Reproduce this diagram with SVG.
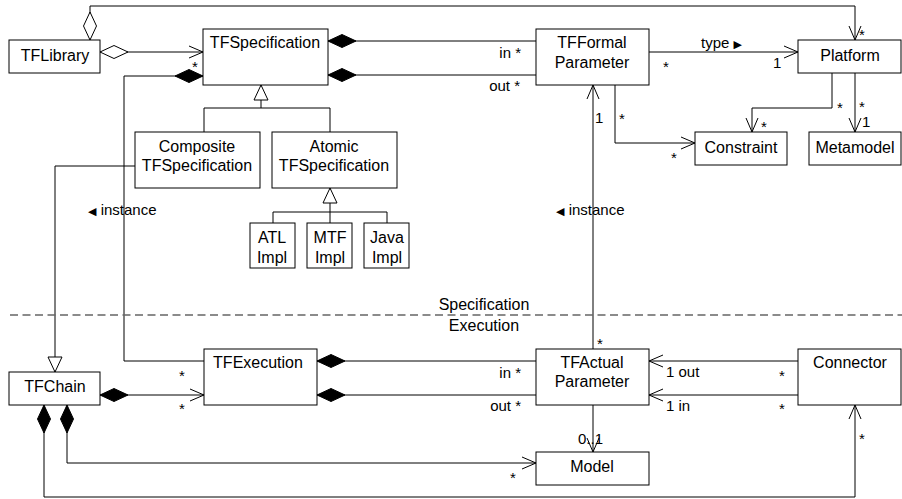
<svg xmlns="http://www.w3.org/2000/svg" width="902" height="499" viewBox="0 0 902 499">
<style>
.box{fill:#fff;stroke:#000;stroke-width:1}
.t{font-family:"Liberation Sans","DejaVu Sans",Arial,sans-serif;font-size:16px;fill:#000;text-anchor:middle}
.l{font-family:"Liberation Sans","DejaVu Sans",Arial,sans-serif;font-size:15px;fill:#000}
.r{text-anchor:end}
.c{fill:none;stroke:#000;stroke-width:1}
.sym{font-family:"DejaVu Sans",sans-serif;font-size:11px}
</style>
<defs>
<marker id="arr" markerUnits="userSpaceOnUse" markerWidth="16" markerHeight="14" refX="14" refY="6" orient="auto" overflow="visible"><path d="M0,0 L14,6 L0,12" fill="none" stroke="#000" stroke-width="1"/></marker>
<marker id="fd" markerUnits="userSpaceOnUse" markerWidth="30" markerHeight="14" refX="0" refY="6.5" orient="auto" overflow="visible"><path d="M0,6.5 L14,0 L28,6.5 L14,13 Z" fill="#000" stroke="#000" stroke-width="1"/></marker>
<marker id="hd" markerUnits="userSpaceOnUse" markerWidth="30" markerHeight="14" refX="0" refY="6.5" orient="auto" overflow="visible"><path d="M0,6.5 L14,0 L28,6.5 L14,13 Z" fill="#fff" stroke="#000" stroke-width="1"/></marker>
<marker id="tri" markerUnits="userSpaceOnUse" markerWidth="17" markerHeight="16" refX="15" refY="7" orient="auto" overflow="visible"><path d="M0,0 L15,7 L0,14 Z" fill="#fff" stroke="#000" stroke-width="1"/></marker>
</defs>

<g id="connectors">
<path class="c" d="M90,40 V6 H855 V40" marker-start="url(#hd)" marker-end="url(#arr)"/>
<path class="c" d="M100,52 H203" marker-start="url(#hd)" marker-end="url(#arr)"/>
<path class="c" d="M203,76 H124 V361 H204" marker-start="url(#fd)"/>
<path class="c" d="M328,41 H536" marker-start="url(#fd)"/>
<path class="c" d="M328,75 H536" marker-start="url(#fd)"/>
<path class="c" d="M649,52 H798" marker-end="url(#arr)"/>
<path class="c" d="M615,85 V143 H695" marker-end="url(#arr)"/>
<path class="c" d="M832,73 V108 H752 V132" marker-end="url(#arr)"/>
<path class="c" d="M855,73 V132" marker-end="url(#arr)"/>
<path class="c" d="M261,108 V85" marker-end="url(#tri)"/>
<path class="c" d="M204,132 V108 H330 V132"/>
<path class="c" d="M330,212 V188" marker-end="url(#tri)"/>
<path class="c" d="M273,223 V212 H387 V223 M330,212 V223"/>
<path class="c" d="M135,166 H55 V372" marker-end="url(#tri)"/>
<path class="c" d="M100,395 H204" marker-start="url(#fd)" marker-end="url(#arr)"/>
<path class="c" d="M317,361 H536" marker-start="url(#fd)"/>
<path class="c" d="M317,395 H536" marker-start="url(#fd)"/>
<path class="c" d="M593,349 V85" marker-end="url(#arr)"/>
<path class="c" d="M593,405 V452" marker-end="url(#arr)"/>
<path class="c" d="M798,361 H649" marker-end="url(#arr)"/>
<path class="c" d="M798,395 H649" marker-end="url(#arr)"/>
<path class="c" d="M67,405 V463 H536" marker-start="url(#fd)" marker-end="url(#arr)"/>
<path class="c" d="M44,405 V497 H855 V405" marker-start="url(#fd)" marker-end="url(#arr)"/>

<text class="l" x="192" y="72">*</text>
<text class="l r" x="521" y="58">in *</text>
<text class="l r" x="520" y="91">out *</text>
<text class="l" x="701" y="48">type <tspan class="sym">▶</tspan></text>
<text class="l" x="663" y="72">*</text>
<text class="l" x="773" y="68">1</text>
<text class="l" x="859" y="40">*</text>
<text class="l" x="619" y="124">*</text>
<text class="l" x="671" y="163">*</text>
<text class="l" x="837" y="113">*</text>
<text class="l" x="761" y="132">*</text>
<text class="l" x="859" y="112">*</text>
<text class="l" x="862" y="127">1</text>
<text class="l" x="595" y="123">1</text>
<text class="l" x="88" y="215"><tspan class="sym">◀</tspan> instance</text>
<text class="l" x="556" y="215"><tspan class="sym">◀</tspan> instance</text>
<text class="l" x="179" y="381">*</text>
<text class="l" x="179" y="414">*</text>
<text class="l r" x="521" y="378">in *</text>
<text class="l r" x="521" y="411">out *</text>
<text class="l" x="597" y="349">*</text>
<text class="l" x="578" y="444">0..1</text>
<text class="l" x="510" y="483">*</text>
<text class="l" x="666" y="377">1 out</text>
<text class="l" x="666" y="411">1 in</text>
<text class="l" x="779" y="381">*</text>
<text class="l" x="779" y="414">*</text>
<text class="l" x="859" y="444">*</text>
</g>

<g id="separator">
<line x1="10" y1="315" x2="902" y2="315" stroke="#666" stroke-width="1.6" stroke-dasharray="8,4.5"/>
<text class="t" x="484" y="310">Specification</text>
<text class="t" x="484" y="331">Execution</text>
</g>

<g id="TFLibrary"><rect class="box" x="9" y="40" width="91" height="33"/><text class="t" x="55" y="61">TFLibrary</text></g>
<g id="TFSpecification"><rect class="box" x="203" y="29" width="125" height="56"/><text class="t" x="265" y="48">TFSpecification</text></g>
<g id="TFFormalParameter"><rect class="box" x="536" y="29" width="113" height="56"/><text class="t" x="592" y="48">TFFormal</text><text class="t" x="592" y="68">Parameter</text></g>
<g id="Platform"><rect class="box" x="798" y="40" width="103" height="33"/><text class="t" x="850" y="61">Platform</text></g>
<g id="Constraint"><rect class="box" x="695" y="132" width="92" height="33"/><text class="t" x="741" y="153">Constraint</text></g>
<g id="Metamodel"><rect class="box" x="809" y="132" width="92" height="33"/><text class="t" x="855" y="153">Metamodel</text></g>
<g id="CompositeTFSpecification"><rect class="box" x="135" y="132" width="125" height="56"/><text class="t" x="197" y="152">Composite</text><text class="t" x="197" y="171">TFSpecification</text></g>
<g id="AtomicTFSpecification"><rect class="box" x="272" y="132" width="125" height="56"/><text class="t" x="334" y="152">Atomic</text><text class="t" x="334" y="171">TFSpecification</text></g>
<g id="ATLImpl"><rect class="box" x="250" y="223" width="45" height="45"/><text class="t" x="272" y="243">ATL</text><text class="t" x="272" y="263">Impl</text></g>
<g id="MTFImpl"><rect class="box" x="307" y="223" width="45" height="45"/><text class="t" x="330" y="243">MTF</text><text class="t" x="330" y="263">Impl</text></g>
<g id="JavaImpl"><rect class="box" x="364" y="223" width="45" height="45"/><text class="t" x="387" y="243">Java</text><text class="t" x="387" y="263">Impl</text></g>
<g id="TFChain"><rect class="box" x="9" y="372" width="91" height="33"/><text class="t" x="55" y="392">TFChain</text></g>
<g id="TFExecution"><rect class="box" x="204" y="349" width="113" height="56"/><text class="t" x="258" y="368">TFExecution</text></g>
<g id="TFActualParameter"><rect class="box" x="536" y="349" width="113" height="56"/><text class="t" x="592" y="368">TFActual</text><text class="t" x="592" y="387">Parameter</text></g>
<g id="Model"><rect class="box" x="536" y="452" width="113" height="33"/><text class="t" x="592" y="472">Model</text></g>
<g id="Connector"><rect class="box" x="798" y="349" width="103" height="56"/><text class="t" x="850" y="368">Connector</text></g>
</svg>
